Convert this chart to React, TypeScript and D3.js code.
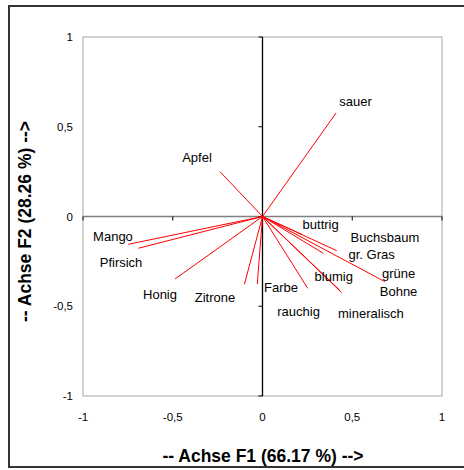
import React from "react";
import * as d3 from "d3";

const variables = ["sauer", "Apfel", "Mango", "Pfirsich", "Honig", "Zitrone", "Farbe", "rauchig", "mineralisch", "blumig", "grüne Bohne", "gr. Gras", "Buchsbaum", "buttrig"];
const f1 = [0.41, -0.237, -0.748, -0.692, -0.487, -0.101, -0.029, 0.252, 0.441, 0.43, 0.682, 0.339, 0.413, 0.22];
const f2 = [0.577, 0.25, -0.155, -0.177, -0.348, -0.378, -0.376, -0.40, -0.424, -0.41, -0.363, -0.205, -0.19, -0.10];
const labelF1 = [0.518, -0.365, -0.833, -0.788, -0.571, -0.265, 0.103, 0.201, 0.604, 0.397, 0.758, 0.608, 0.682, 0.324];
const labelF2 = [0.638, 0.331, -0.109, -0.259, -0.437, -0.454, -0.395, -0.532, -0.543, -0.337, -0.368, -0.209, -0.118, -0.042];
const ticks = [-1, -0.5, 0, 0.5, 1];

const fmt = (v: number) => String(v).replace(".", ",");

export default function App() {
  const x = d3.scaleLinear().domain([-1, 1]).range([83, 442]);
  const y = d3.scaleLinear().domain([-1, 1]).range([396, 37]);
  const font = "Liberation Sans, Arial, sans-serif";
  return (
    <svg width={464} height={470} style={{ position: "absolute", left: 0, top: 0, background: "#fff" }} fontFamily={font}>
      <rect x={9} y={6} width={470} height={461} fill="none" stroke="#333" strokeWidth={2} />
      <rect x={x(-1)} y={y(1)} width={x(1) - x(-1)} height={y(-1) - y(1)} fill="none" stroke="#a6a6a6" strokeWidth={1} />
      <line x1={x(-1)} x2={x(1)} y1={y(0)} y2={y(0)} stroke="#808080" strokeWidth={1.3} />
      <line x1={x(0)} x2={x(0)} y1={y(1)} y2={y(-1)} stroke="#000" strokeWidth={1.3} />
      {ticks.map((t) => (
        <line key={"tx" + t} x1={x(t)} x2={x(t)} y1={y(0)} y2={y(0) + 4} stroke="#000" />
      ))}
      {ticks.map((t) => (
        <line key={"ty" + t} x1={x(0) - 4} x2={x(0)} y1={y(t)} y2={y(t)} stroke="#000" />
      ))}
      {ticks.map((t) => (
        <text key={"lx" + t} x={x(t)} y={y(-1) + 25} fontSize={11.5} textAnchor="middle" fill="#000">{fmt(t)}</text>
      ))}
      {ticks.map((t) => (
        <text key={"ly" + t} x={73} y={y(t) + 4} fontSize={11.5} textAnchor="end" fill="#000">{fmt(t)}</text>
      ))}
      {variables.map((v, i) => (
        <line key={"v" + v} x1={x(0)} y1={y(0)} x2={x(f1[i])} y2={y(f2[i])} stroke="#ff0000" strokeWidth={1} />
      ))}
      {variables.map((v, i) => {
        const parts = v === "grüne Bohne" ? ["grüne", "Bohne"] : [v];
        const lh = 17.6;
        const y0 = y(labelF2[i]) - ((parts.length - 1) * lh) / 2 + 4.5;
        return (
          <text key={"t" + v} x={x(labelF1[i])} y={y0} fontSize={13} textAnchor="middle" fill="#000">
            {parts.map((p, k) => (
              <tspan key={k} x={x(labelF1[i])} dy={k === 0 ? 0 : lh}>{p}</tspan>
            ))}
          </text>
        );
      })}
      <text x={263} y={462} fontSize={17.5} fontWeight="bold" textAnchor="middle">-- Achse F1 (66.17 %) --&gt;</text>
      <text transform={`translate(31,${y(0) + 5}) rotate(-90)`} fontSize={17.5} fontWeight="bold" textAnchor="middle">-- Achse F2 (28.26 %) --&gt;</text>
    </svg>
  );
}
